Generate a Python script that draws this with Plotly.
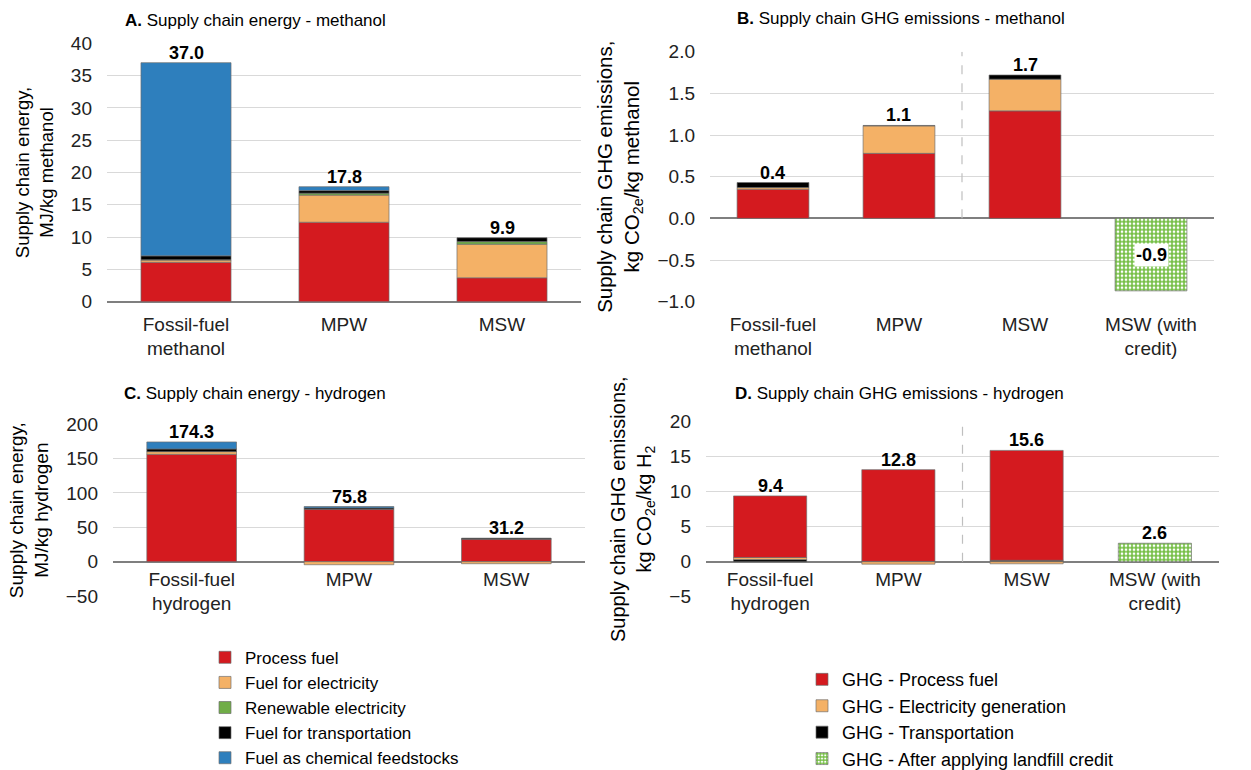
import plotly.graph_objects as go

FONT = "Liberation Sans, Arial, sans-serif"
W, H = 1251, 770

# ---------------- data ----------------
# A. Supply chain energy - methanol (MJ/kg methanol)
cats_a = ["Fossil-fuel<br>methanol", "MPW", "MSW"]
a_process = [6.1, 12.3, 3.7]
a_electricity = [0.35, 4.2, 5.2]
a_renewable = [0.05, 0.3, 0.4]
a_transport = [0.6, 0.4, 0.6]
a_feedstock = [29.9, 0.6, None]

# B. Supply chain GHG emissions - methanol (kg CO2e/kg methanol)
cats_b = ["Fossil-fuel<br>methanol", "MPW", "MSW", "MSW (with<br>credit)"]
b_process = [0.35, 0.78, 1.29, None]
b_electricity = [0.02, 0.33, 0.38, None]
b_transport = [0.06, 0.005, 0.05, None]
b_credit = [None, None, None, -0.87]

# C. Supply chain energy - hydrogen (MJ/kg hydrogen)
cats_c = ["Fossil-fuel<br>hydrogen", "MPW", "MSW"]
c_process = [156.3, 76.3, 32.6]
c_electricity = [3.9, -4.5, -3.0]
c_renewable = [None, None, None]
c_transport = [3.9, 2.0, 1.6]
c_feedstock = [10.2, 2.0, None]

# D. Supply chain GHG emissions - hydrogen (kg CO2e/kg H2)
cats_d = ["Fossil-fuel<br>hydrogen", "MPW", "MSW", "MSW (with<br>credit)"]
d_transport = [0.3, 0.05, 0.2, None]
d_electricity = [0.3, -0.35, -0.3, None]
d_process = [8.8, 13.1, 15.7, None]
d_credit = [None, None, None, 2.64]

energy_names = ["Process fuel", "Fuel for electricity", "Renewable electricity",
                "Fuel for transportation", "Fuel as chemical feedstocks"]
ghg_names = ["GHG - Process fuel", "GHG - Electricity generation",
             "GHG - Transportation", "GHG - After applying landfill credit"]

RED = "#D41A1F"
ORANGE = "#F4B166"
GREEN = "#70AD47"
BLACK = "#000000"
BLUE = "#2E7FBD"
CHECK = "#6DBB3A"
EDGE = dict(color="rgba(110,110,110,0.85)", width=0.8)

fig = go.Figure()


def add_bar(x, y, name, color, xa, ya, legend, showlegend, pattern=None):
    marker = dict(color=color, line=EDGE)
    if pattern:
        marker["pattern"] = pattern
    fig.add_trace(go.Bar(x=x, y=y, name=name, marker=marker, xaxis=xa, yaxis=ya,
                         legend=legend, showlegend=showlegend, hoverinfo="skip"))


# Panel A
for vals, nm, col in zip([a_process, a_electricity, a_renewable, a_transport, a_feedstock],
                         energy_names, [RED, ORANGE, GREEN, BLACK, BLUE]):
    add_bar(cats_a, vals, nm, col, "x", "y", "legend", True)

# Panel B
pat = dict(shape="+", fgcolor=CHECK, bgcolor="white", size=4, solidity=0.6, fillmode="replace")
for vals, nm, col in zip([b_process, b_electricity, b_transport], ghg_names[:3], [RED, ORANGE, BLACK]):
    add_bar(cats_b, vals, nm, col, "x2", "y2", "legend2", True)
add_bar(cats_b, b_credit, ghg_names[3], "white", "x2", "y2", "legend2", True, pattern=pat)

# Panel C
for vals, nm, col in zip([c_process, c_electricity, c_renewable, c_transport, c_feedstock],
                         energy_names, [RED, ORANGE, GREEN, BLACK, BLUE]):
    add_bar(cats_c, vals, nm, col, "x3", "y3", "legend", False)

# Panel D
for vals, nm, col in zip([d_transport, d_electricity, d_process],
                         [ghg_names[2], ghg_names[1], ghg_names[0]], [BLACK, ORANGE, RED]):
    add_bar(cats_d, vals, nm, col, "x4", "y4", "legend2", False)
add_bar(cats_d, d_credit, ghg_names[3], "white", "x4", "y4", "legend2", False, pattern=pat)

# ---------------- total labels ----------------
annotations = []


def add_totals(cats, series, xref, yref, shift):
    for i, c in enumerate(cats):
        vals = [s[i] for s in series if s[i] is not None]
        tot = sum(vals)
        pos = sum(v for v in vals if v > 0)
        txt = f"{tot:.1f}"
        if tot < 0:
            annotations.append(dict(x=c, y=tot / 2, xref=xref, yref=yref, text=f"<b>{txt}</b>",
                                    showarrow=False, bgcolor="white", borderpad=1,
                                    font=dict(family=FONT, size=18, color="black")))
        else:
            annotations.append(dict(x=c, y=pos, xref=xref, yref=yref, text=f"<b>{txt}</b>",
                                    showarrow=False, yanchor="bottom", yshift=shift,
                                    font=dict(family=FONT, size=18, color="black")))


add_totals(cats_a, [a_process, a_electricity, a_renewable, a_transport, a_feedstock], "x", "y", -2)
add_totals(cats_b, [b_process, b_electricity, b_transport, b_credit], "x2", "y2", -2)
add_totals(cats_c, [c_process, c_electricity, c_renewable, c_transport, c_feedstock], "x3", "y3", -2)
add_totals(cats_d, [d_transport, d_electricity, d_process, d_credit], "x4", "y4", -2)

# panel titles
titles = [("<b>A.</b> Supply chain energy - methanol", 123, 21),
          ("<b>B.</b> Supply chain GHG emissions - methanol", 735, 19),
          ("<b>C.</b> Supply chain energy - hydrogen", 122, 393),
          ("<b>D.</b> Supply chain GHG emissions - hydrogen", 733, 393)]
for t, px, py in titles:
    annotations.append(dict(x=px / W, y=1 - py / H, xref="paper", yref="paper", text=t,
                            showarrow=False, xanchor="left", yanchor="middle",
                            font=dict(family=FONT, size=17, color="black")))

# ---------------- axes ----------------
def px_x(a, b):
    return [a / W, b / W]


def px_y(top, bottom):
    return [1 - bottom / H, 1 - top / H]


TICKF = dict(family=FONT, size=19, color="#222222")


def yax(rng, dtick, dom, title, anchor, tsize, fmt=None):
    d = dict(domain=dom, range=rng, dtick=dtick, anchor=anchor, showgrid=True, gridcolor="#D9D9D9",
             gridwidth=1, zeroline=True, zerolinecolor="#7F7F7F", zerolinewidth=1.6,
             showline=False, ticks="", tickfont=TICKF, ticklabelstandoff=14,
             title=dict(text=title, font=dict(family=FONT, size=tsize, color="black"), standoff=12),
             fixedrange=True)
    if fmt:
        d["tickformat"] = fmt
    return d


def xax(dom, **kw):
    d = dict(domain=dom, showgrid=False, zeroline=False, showline=False, ticks="",
             tickfont=TICKF, type="category", fixedrange=True)
    d.update(kw)
    return d


zero_cd = 1 - 561.7 / H

fig.update_layout(
    width=W, height=H, margin=dict(l=0, r=0, t=0, b=0, autoexpand=False),
    paper_bgcolor="white", plot_bgcolor="white",
    barmode="relative", bargap=0.43,
    font=dict(family=FONT, color="black"),
    xaxis=xax(px_x(107, 581), anchor="y", ticklabelstandoff=9),
    yaxis=yax([0, 40], 5, px_y(43.3, 301.7), "Supply chain energy,<br>MJ/kg methanol", "x", 18.5),
    xaxis2=xax(px_x(710, 1214), anchor="y2", ticklabelstandoff=9),
    yaxis2=yax([-1, 2], 0.5, px_y(51.7, 301.7),
               "Supply chain GHG emissions,<br>kg CO<sub>2e</sub>/kg methanol", "x2", 20.5, ".1f"),
    xaxis3=xax(px_x(113, 585), anchor="free", position=zero_cd, ticklabelstandoff=4),
    yaxis3=yax([-50, 200], 50, px_y(424.3, 596), "Supply chain energy,<br>MJ/kg hydrogen", "x3", 19),
    xaxis4=xax(px_x(706, 1219), anchor="free", position=zero_cd, ticklabelstandoff=4),
    yaxis4=yax([-5, 20], 5, px_y(421.7, 596.7),
               "Supply chain GHG emissions,<br>kg CO<sub>2e</sub>/kg H<sub>2</sub>", "x4", 20),
    legend=dict(x=205 / W, y=-0.0075, xanchor="left", yanchor="bottom", traceorder="normal",
                font=dict(family=FONT, size=17, color="black"), bgcolor="rgba(0,0,0,0)",
                itemclick=False, itemdoubleclick=False),
    legend2=dict(x=802 / W, y=-0.0093, xanchor="left", yanchor="bottom", traceorder="normal",
                 font=dict(family=FONT, size=18, color="black"), bgcolor="rgba(0,0,0,0)",
                 itemclick=False, itemdoubleclick=False),
    annotations=annotations,
    shapes=[
        dict(type="line", xref="x2", yref="y2", x0=1.5, x1=1.5, y0=0, y1=2,
             line=dict(color="#BFBFBF", width=1.2, dash="dash")),
        dict(type="line", xref="x4", yref="y4", x0=1.5, x1=1.5, y0=0, y1=20,
             line=dict(color="#BFBFBF", width=1.2, dash="dash")),
    ],
)

fig.write_html("out.html", include_plotlyjs=True, config={"displayModeBar": False},
               post_script="document.body.style.margin='0';")
